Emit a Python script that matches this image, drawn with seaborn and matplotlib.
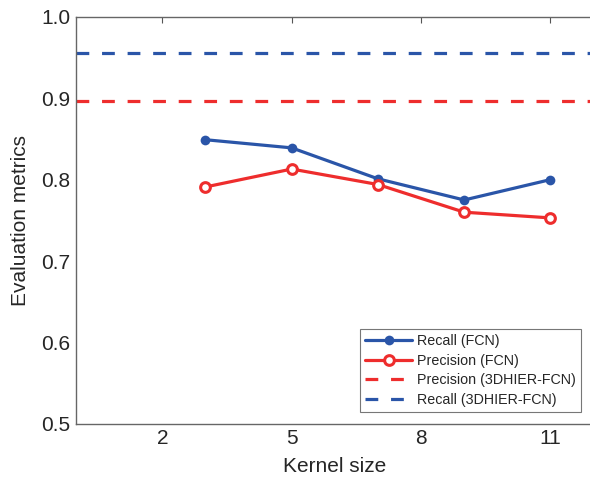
import numpy as np
import pandas as pd
import seaborn as sns
import matplotlib.pyplot as plt

# values
kernel_sizes = [3, 5, 7, 9, 11]
recall_fcn = [0.849, 0.839, 0.801, 0.775, 0.800]
precision_fcn = [0.791, 0.813, 0.794, 0.760, 0.753]
precision_3dhier = 0.896
recall_3dhier = 0.955

x_ticks = [2, 5, 8, 11]
y_ticks = [0.5, 0.6, 0.7, 0.8, 0.9, 1.0]

blue = '#2a55a8'
red = '#ee2d2d'

sns.set_style('white')
plt.rcParams['font.family'] = ['Liberation Sans', 'DejaVu Sans']

df = pd.DataFrame({
    'Kernel size': kernel_sizes * 2,
    'value': recall_fcn + precision_fcn,
    'series': ['Recall (FCN)'] * 5 + ['Precision (FCN)'] * 5,
})

fig = plt.figure(figsize=(5.9, 4.79), dpi=100)
# right spine sits just past the image edge, as in the reference
ax = fig.add_axes([0.129, 0.115, 0.877, 0.85])

sns.lineplot(data=df[df.series == 'Recall (FCN)'], x='Kernel size', y='value',
             color=blue, lw=2.3, marker='o', markersize=7, markeredgewidth=0,
             label='Recall (FCN)', ax=ax)
sns.lineplot(data=df[df.series == 'Precision (FCN)'], x='Kernel size', y='value',
             color=red, lw=2.3, marker='o', markersize=7, markerfacecolor='white',
             markeredgecolor=red, markeredgewidth=2.2,
             label='Precision (FCN)', ax=ax)
ax.axhline(precision_3dhier, color=red, lw=2.3, dashes=(4, 4), label='Precision (3DHIER-FCN)')
ax.axhline(recall_3dhier, color=blue, lw=2.3, dashes=(4, 4), label='Recall (3DHIER-FCN)')

ax.set_xlim(0, 12)
ax.set_ylim(0.5, 1.0)
ax.set_xticks(x_ticks)
ax.set_yticks(y_ticks)
ax.set_yticklabels([f'{v:.1f}' for v in y_ticks])
ax.tick_params(direction='in', length=4, width=0.8, color='#555555',
               labelsize=15, top=True, right=False, pad=4)
for s in ax.spines.values():
    s.set_color('#666666')
    s.set_linewidth(1.0)

ax.set_xlabel('Kernel size', fontsize=15, labelpad=6)
ax.set_ylabel('Evaluation metrics', fontsize=15, labelpad=8)

leg = ax.legend(loc='lower right', fontsize=10.3, frameon=True, fancybox=False,
                edgecolor='#555555', borderaxespad=0.85, handlelength=3.3,
                labelspacing=0.38, borderpad=0.35, handletextpad=0.35)
leg.get_frame().set_linewidth(0.8)

fig.savefig('out.png', dpi=100)
